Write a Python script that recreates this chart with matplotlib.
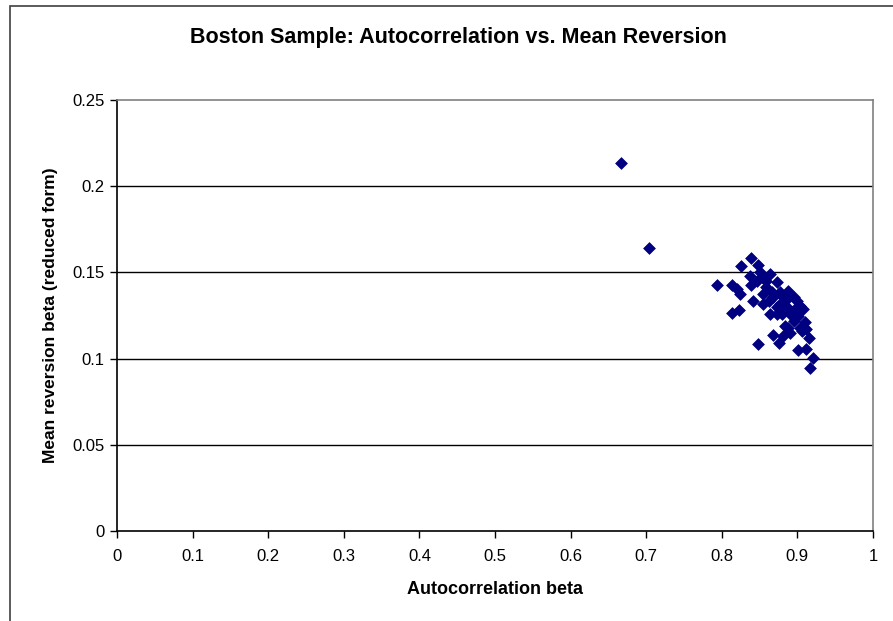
import matplotlib.pyplot as plt
from matplotlib.patches import Rectangle

# autocorrelation beta vs mean reversion beta
autocorr = [0.667, 0.704, 0.793, 0.814, 0.826, 0.839, 0.848, 0.824, 0.820, 0.813,
            0.823, 0.841, 0.839, 0.848, 0.868, 0.875, 0.901, 0.917, 0.921, 0.912,
            0.915, 0.864, 0.873, 0.884, 0.888, 0.864, 0.873, 0.837, 0.853, 0.855,
            0.899, 0.908, 0.895, 0.904, 0.890, 0.881, 0.910, 0.859, 0.868, 0.877,
            0.886, 0.881, 0.895, 0.855, 0.866, 0.877, 0.890, 0.901, 0.906, 0.850,
            0.859, 0.846, 0.873, 0.897, 0.879, 0.904, 0.886, 0.888, 0.912, 0.862]
mean_rev = [0.2136, 0.1640, 0.1428, 0.1428, 0.1539, 0.1583, 0.1545, 0.1374, 0.1403, 0.1262,
            0.1280, 0.1335, 0.1428, 0.1087, 0.1138, 0.1093, 0.1048, 0.0948, 0.1006, 0.1054,
            0.1122, 0.1258, 0.1258, 0.1190, 0.1393, 0.1490, 0.1442, 0.1480, 0.1471, 0.1316,
            0.1335, 0.1287, 0.1219, 0.1180, 0.1151, 0.1132, 0.1210, 0.1413, 0.1355, 0.1316,
            0.1297, 0.1355, 0.1355, 0.1374, 0.1384, 0.1384, 0.1258, 0.1248, 0.1161, 0.1500,
            0.1452, 0.1452, 0.1297, 0.1287, 0.1258, 0.1306, 0.1345, 0.1180, 0.1170, 0.1335]

x_ticks = [0, 0.1, 0.2, 0.3, 0.4, 0.5, 0.6, 0.7, 0.8, 0.9, 1]
x_labels = ['0', '0.1', '0.2', '0.3', '0.4', '0.5', '0.6', '0.7', '0.8', '0.9', '1']
y_ticks = [0, 0.05, 0.1, 0.15, 0.2, 0.25]
y_labels = ['0', '0.05', '0.1', '0.15', '0.2', '0.25']

plt.rcParams['font.family'] = ['Liberation Sans', 'DejaVu Sans']

fig = plt.figure(figsize=(8.93, 6.21), dpi=100)
ax = fig.add_axes([117 / 893, 1 - 531 / 621, (873 - 117) / 893, (531 - 100) / 621])

# outer chart frame (cropped on right and bottom)
fig.patches.append(Rectangle((10 / 893, -0.1), 1.2, 1 - 6 / 621 + 0.1,
                             transform=fig.transFigure, fill=False,
                             edgecolor='#404040', linewidth=1.2))

ax.scatter(autocorr, mean_rev, marker='D', s=36, color='#000080',
           edgecolors='#000080', linewidths=0.5, zorder=3)

ax.set_xlim(0, 1)
ax.set_ylim(0, 0.25)
ax.set_xticks(x_ticks)
ax.set_xticklabels(x_labels)
ax.set_yticks(y_ticks)
ax.set_yticklabels(y_labels)
ax.tick_params(direction='out', length=5, width=1, labelsize=12, colors='black')
ax.tick_params(axis='x', pad=8)
ax.tick_params(axis='y', pad=4)

for y in y_ticks[1:-1]:
    ax.axhline(y, color='black', linewidth=1, zorder=1)

ax.spines['left'].set_color('black')
ax.spines['bottom'].set_color('black')
ax.spines['top'].set_color('#808080')
ax.spines['right'].set_color('#808080')
for sp in ax.spines.values():
    sp.set_linewidth(1.2)

fig.text(458 / 893, 1 - 38 / 621, 'Boston Sample: Autocorrelation vs. Mean Reversion',
         ha='center', va='center', fontsize=15.5, fontweight='bold')
ax.set_xlabel('Autocorrelation beta', fontsize=13, fontweight='bold', labelpad=12)
ax.set_ylabel('Mean reversion beta (reduced form)', fontsize=12.5, fontweight='bold', labelpad=10)

fig.savefig('out.png', dpi=100)
